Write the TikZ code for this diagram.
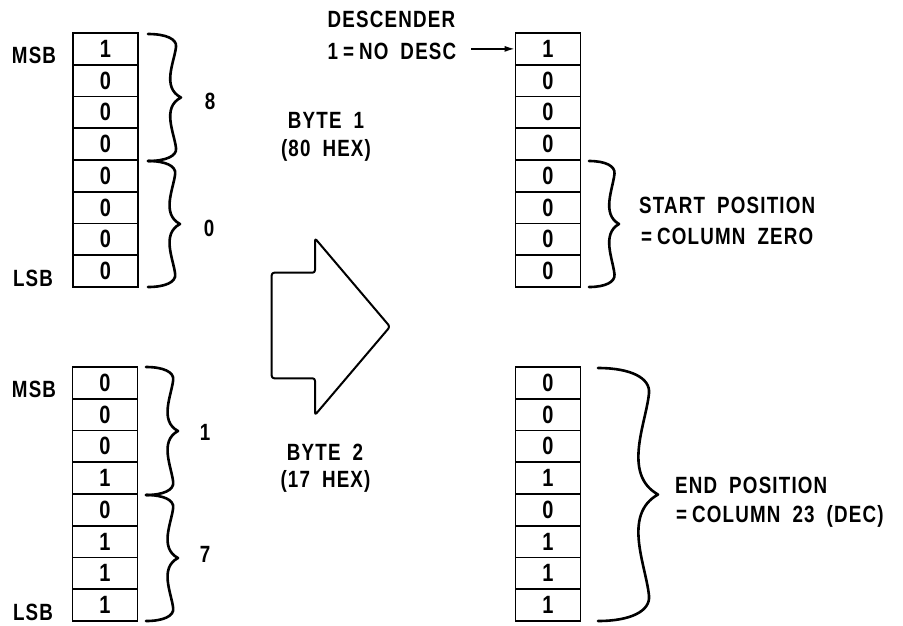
\documentclass[tikz,border=0pt]{standalone}
\usepackage{fontspec}
\setmainfont{Liberation Sans}[FakeStretch=0.8,LetterSpace=5]
\usetikzlibrary{arrows.meta,calc}
\newcommand{\cbr}[4]{%
 \draw[bracestyle] (#1,#2)
 .. controls ({#1+0.55*#4},{#2}) and ({#1+0.875*#4},{#2+0.04*(#3-#2)}) .. ({#1+0.85*#4},{#2+0.1*(#3-#2)})
 .. controls ({#1+0.8*#4},{#2+0.22*(#3-#2)}) and ({#1+0.4*#4},{#2+0.42*(#3-#2)}) .. ({#1+#4},{#2+0.5*(#3-#2)})
 .. controls ({#1+0.4*#4},{#2+0.58*(#3-#2)}) and ({#1+0.8*#4},{#2+0.78*(#3-#2)}) .. ({#1+0.85*#4},{#2+0.9*(#3-#2)})
 .. controls ({#1+0.875*#4},{#2+0.96*(#3-#2)}) and ({#1+0.55*#4},{#3}) .. (#1,#3);}
\newcommand{\eqs}{\hspace{5pt}=\hspace{5pt}}
\newcommand{\lblfont}{\fontsize{23.5}{31}\selectfont\bfseries\spaceskip 12pt plus 1pt\relax}
\newcommand{\cellfont}{\fontsize{25}{31}\selectfont\bfseries}
\tikzset{
 cell/.style={font=\cellfont, draw, line width=1.7pt, minimum width=65pt, minimum height=31.75pt, inner sep=0pt},
 lbl/.style={font=\lblfont, inner sep=0pt},
 bracestyle/.style={line width=2.6pt, line cap=round, line join=round},
 bigarrow/.style={line width=2pt, rounded corners=2.5pt, line join=round},
 descarrow/.style={line width=1.4pt, -{Latex[length=10pt,width=6pt]}},
}
\begin{document}
\begin{tikzpicture}[x=1pt,y=-1pt]
\useasboundingbox (0,0) rectangle (903,625);
% cells
\foreach \d [count=\i] in {1,0,0,0,0,0,0,0}
  \node[cell] (La\i) at (105.5,{33+31.75*(\i-0.5)}) {\raisebox{-5pt}{\d}};
\foreach \d [count=\i] in {0,0,0,1,0,1,1,1}
  \node[cell] (Lb\i) at (105,{367+31.75*(\i-0.5)}) {\raisebox{-5pt}{\d}};
\foreach \d [count=\i] in {1,0,0,0,0,0,0,0}
  \node[cell] (Ra\i) at (548,{33+31.75*(\i-0.5)}) {\raisebox{-5pt}{\d}};
\foreach \d [count=\i] in {0,0,0,1,0,1,1,1}
  \node[cell] (Rb\i) at (548,{367+31.75*(\i-0.5)}) {\raisebox{-5pt}{\d}};
% side labels
\node[lbl] (msbA) at (34,55) {MSB};
\node[lbl] (lsbA) at (33,278) {LSB};
\node[lbl] (msbB) at (34,389) {MSB};
\node[lbl] (lsbB) at (33,612) {LSB};
% braces
\cbr{148}{34}{161}{33}
\cbr{148}{161}{287}{32}
\cbr{146}{367}{495}{32}
\cbr{146}{495}{621}{32}
\cbr{589}{161}{287}{30}
\cbr{598}{368}{621}{60}
% nibble values
\node[lbl] (n8) at (210,101) {8};
\node[lbl] (n0) at (209,228) {0};
\node[lbl] (n1) at (205,432) {1};
\node[lbl] (n7) at (205,554) {7};
% byte labels
\node[lbl] (b1a) at (326,120) {BYTE 1};
\node[lbl] (b1b) at (326,150) {(80 HEX)};
\node[lbl] (b2a) at (325,452.5) {BYTE 2};
\node[lbl] (b2b) at (325.5,481) {(17 HEX)};
% big arrow
\draw[bigarrow] (271.7,272.7) -- (315,272.7) -- (315,238.3) -- (390,326.7) -- (315,415) -- (315,378.3) -- (271.7,378.3) -- cycle;
% descender
\node[lbl,anchor=west] (desc1) at (327.5,19) {DESCENDER};
\node[lbl,anchor=west] (desc2) at (327.5,51.5) {1\eqs NO DESC};
\draw[descarrow] ([xshift=15pt]desc2.east |- Ra1.west) -- (Ra1.west);
% position texts
\node[lbl,anchor=west] (st1) at (639,205) {START POSITION};
\node[lbl,anchor=west] (st2) at (641,236.5) {=\hspace{5pt}COLUMN ZERO};
\node[lbl,anchor=west] (en1) at (675,485) {END POSITION};
\node[lbl,anchor=west] (en2) at (676,516) {=\hspace{5pt}COLUMN 23 (DEC)};
\end{tikzpicture}
\end{document}
